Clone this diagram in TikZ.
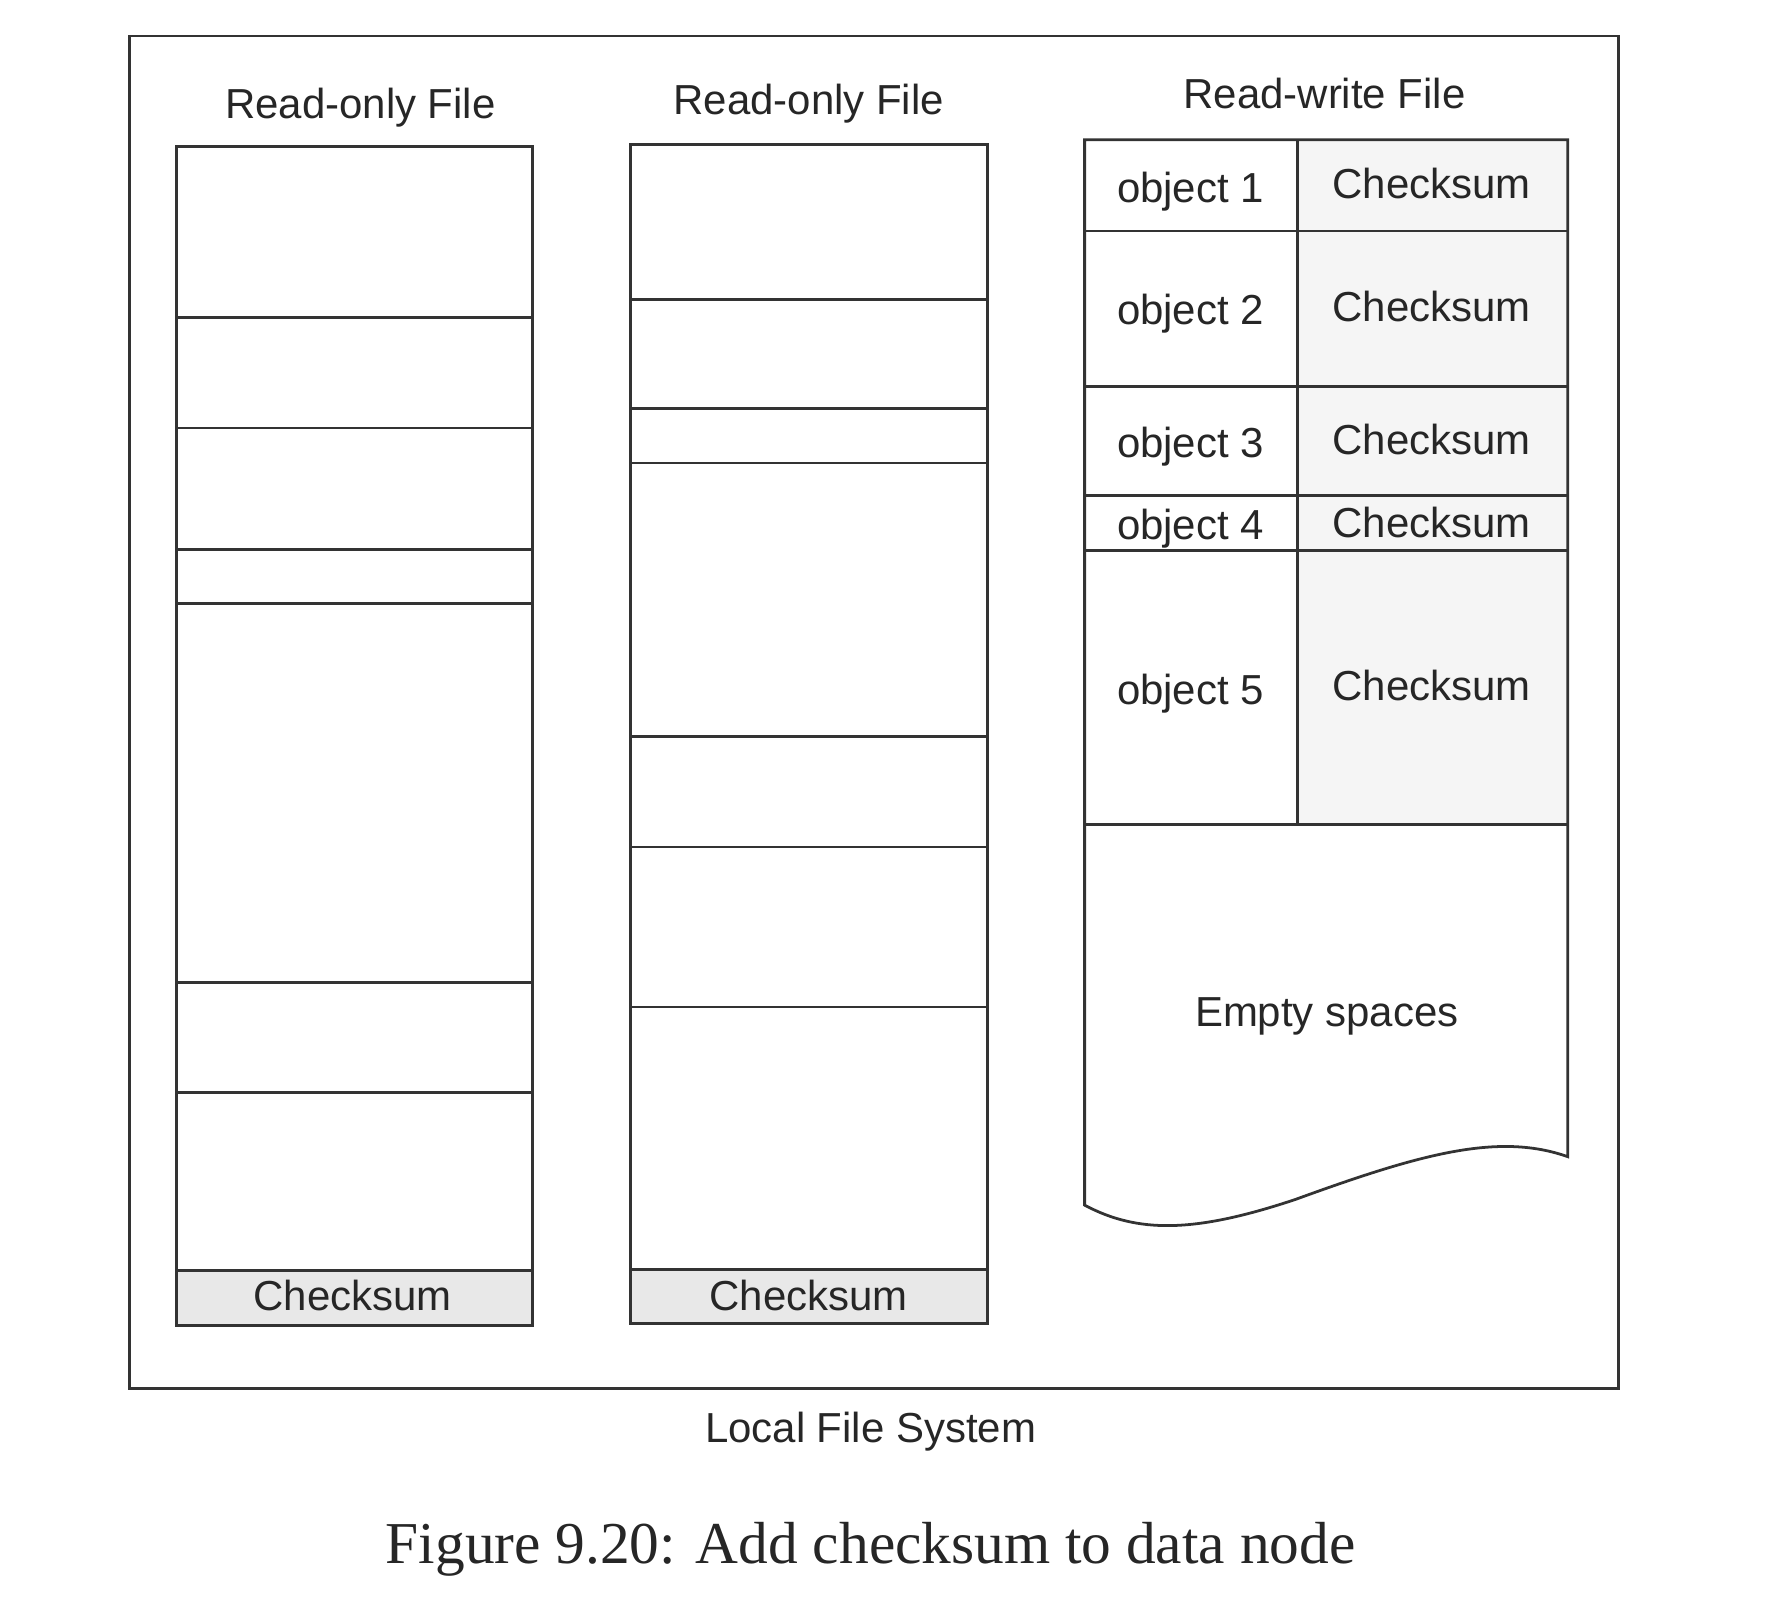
\documentclass[tikz,border=0pt]{standalone}
\usepackage{fontspec}
\setmainfont{Liberation Sans}
\newfontfamily\capfont{Liberation Serif}
\begin{document}
\begin{tikzpicture}
  \useasboundingbox (0, 0) rectangle (15.68, -14.188);  % Seitenverhaeltnis.
  \tikzstyle{frame}=[draw=black!80, line width=0.7pt]
  \tikzstyle{label}=[font=\fontsize{10.6}{12}\selectfont, text=black!85, inner sep=0pt, text height=7.6pt, text depth=0pt]
  \tikzstyle{sumfill}=[fill=black!9]
  \tikzstyle{objfill}=[fill=black!4]

  \draw[frame] (1.15, -0.32) rectangle (14.37, -12.33);

  \node[label] (t1) at (3.20, -0.92) {Read-only File};
  \node[label] (t2) at (7.18, -0.88) {Read-only File};
  \node[label] (t3) at (11.76, -0.83) {Read-write File};

  % Read-only File 1
  \fill[sumfill] (1.57, -11.28) rectangle (4.73, -11.77);
  \draw[frame] (1.57, -1.30) rectangle (4.73, -11.77);
  \draw[frame] (1.57, -2.82) -- (4.73, -2.82);
  \draw[frame] (1.57, -3.80) -- (4.73, -3.80);
  \draw[frame] (1.57, -4.88) -- (4.73, -4.88);
  \draw[frame] (1.57, -5.36) -- (4.73, -5.36);
  \draw[frame] (1.57, -8.72) -- (4.73, -8.72);
  \draw[frame] (1.57, -9.70) -- (4.73, -9.70);
  \draw[frame] (1.57, -11.28) -- (4.73, -11.28);
  \node[label] (s1) at (3.13, -11.50) {Checksum};

  % Read-only File 2
  \fill[sumfill] (5.60, -11.27) rectangle (8.77, -11.75);
  \draw[frame] (5.60, -1.28) rectangle (8.77, -11.75);
  \draw[frame] (5.60, -2.66) -- (8.77, -2.66);
  \draw[frame] (5.60, -3.63) -- (8.77, -3.63);
  \draw[frame] (5.60, -4.11) -- (8.77, -4.11);
  \draw[frame] (5.60, -6.54) -- (8.77, -6.54);
  \draw[frame] (5.60, -7.52) -- (8.77, -7.52);
  \draw[frame] (5.60, -8.94) -- (8.77, -8.94);
  \draw[frame] (5.60, -11.27) -- (8.77, -11.27);
  \node[label] (s2) at (7.18, -11.50) {Checksum};

  % Read-write File
  \fill[objfill] (11.52, -1.24) rectangle (13.92, -7.32);
  \draw[frame] (13.92, -1.24) -- (9.63, -1.24) -- (9.63, -10.70)
    .. controls (10.1, -10.95) and (10.6, -10.95) .. (11.5, -10.65)
    .. controls (12.6, -10.25) and (13.3, -10.05) .. (13.92, -10.27) -- cycle;
  \draw[frame] (11.52, -1.24) -- (11.52, -7.32);
  \draw[frame] (9.63, -2.05) -- (13.92, -2.05);
  \draw[frame] (9.63, -3.43) -- (13.92, -3.43);
  \draw[frame] (9.63, -4.40) -- (13.92, -4.40);
  \draw[frame] (9.63, -4.89) -- (13.92, -4.89);
  \draw[frame] (9.63, -7.32) -- (13.92, -7.32);

  \node[label] (o1) at (10.57, -1.66) {object 1};
  \node[label] (o2) at (10.57, -2.75) {object 2};
  \node[label] (o3) at (10.57, -3.93) {object 3};
  \node[label] (o4) at (10.57, -4.66) {object 4};
  \node[label] (o5) at (10.57, -6.12) {object 5};
  \node[label] (c1) at (12.71, -1.63) {Checksum};
  \node[label] (c2) at (12.71, -2.72) {Checksum};
  \node[label] (c3) at (12.71, -3.90) {Checksum};
  \node[label] (c4) at (12.71, -4.64) {Checksum};
  \node[label] (c5) at (12.71, -6.09) {Checksum};
  \node[label] (e) at (11.78, -8.98) {Empty spaces};

  \node[label] (lfs) at (7.73, -12.67) {Local File System};
  \node[label, font=\capfont\fontsize{15}{18}\selectfont, text height=9.9pt] (cap) at (7.73, -13.71) {Figure 9.20: Add checksum to data node};
\end{tikzpicture}
\end{document}
